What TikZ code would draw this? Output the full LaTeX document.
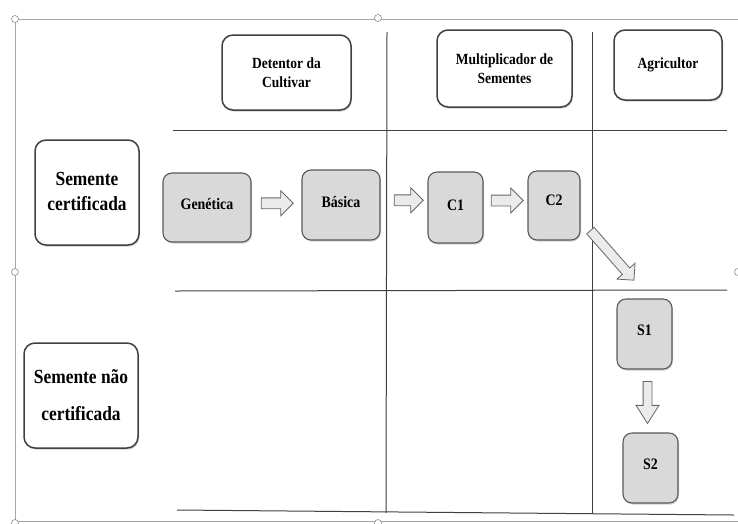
\documentclass[tikz,border=0pt]{standalone}
\usepackage{fontspec}
\setmainfont{Liberation Serif}[FakeStretch=0.87]
\usetikzlibrary{shapes.arrows,shadows,calc}
\begin{document}
\begin{tikzpicture}[x=1pt,y=-1pt,
  shad/.style={drop shadow={shadow xshift=1pt,shadow yshift=-1.6pt,opacity=0.35}},
  box/.style={rounded corners=11pt, draw=black!75, line width=1.5pt, fill=white, align=center, inner sep=0pt, shad},
  rowlabel/.style={box, font=\fontsize{20}{25}\selectfont\bfseries},
  colhead/.style={box, font=\fontsize{15.5}{19}\selectfont\bfseries},
  stage/.style={rounded corners=9pt, draw=black!65, line width=1.1pt, fill=black!15, inner sep=0pt, font=\fontsize{16}{19}\selectfont\bfseries, shad},
  blockarrow/.style={single arrow, draw=black!60, fill=black!8, line width=0.8pt, inner xsep=0pt, inner ysep=5pt, minimum height=32pt, minimum width=20pt, single arrow tip angle=90},
  gridline/.style={draw=black!75, line width=1pt},
  framel/.style={draw=black!35, line width=0.6pt},
  handle/.style={draw=black!45, fill=white, line width=0.6pt}
]
\useasboundingbox (0,0) rectangle (738,523);
% selection frame
\draw[framel] (15,19) -- (738,19);
\draw[framel] (15,19) -- (15,523);
\draw[framel] (15,521.5) -- (738,521.5);
\foreach \p in {(15,19),(378,18),(15,272),(738,272),(15,523),(378,523)}
  \draw[handle] \p circle (3.5);
% grid lines
\draw[gridline] (173,130) -- (727,130);
\draw[gridline] (175,291) -- (727,290);
\draw[gridline] (177,510) -- (734,515);
\draw[gridline] (387,32) -- (386,513);
\draw[gridline] (592,32) -- (592,513);
% column heads
\node[colhead, minimum width=129pt, minimum height=75pt] (det) at (286.5,72.5) {Detentor da\\Cultivar};
\node[colhead, minimum width=135pt, minimum height=77pt] (mult) at (504.5,68.5) {Multiplicador de\\Sementes};
\node[colhead, minimum width=108pt, minimum height=70pt] (agr) at (668,65) {\raisebox{3pt}{Agricultor}};
% row labels
\node[rowlabel, minimum width=104pt, minimum height=105pt] (semcert) at (87,192.5) {\raisebox{4pt}{\begin{tabular}{@{}c@{}}Semente\\certificada\end{tabular}}};
\node[rowlabel, font=\fontsize{20}{37}\selectfont\bfseries, minimum width=114pt, minimum height=105pt] (semnao) at (81,395.5) {Semente não\\certificada};
% stages
\node[stage, minimum width=88pt, minimum height=69pt] (gen) at (207,207.5) {\raisebox{7pt}{Genética}};
\node[stage, minimum width=78pt, minimum height=70pt] (bas) at (341,205) {\raisebox{7pt}{Básica}};
\node[stage, minimum width=55pt, minimum height=71pt] (c1) at (455.5,207.5) {\raisebox{4pt}{C1}};
\node[stage, minimum width=52pt, minimum height=69pt] (c2) at (554,205.5) {\raisebox{10pt}{C2}};
\node[stage, minimum width=55pt, minimum height=70pt] (s1) at (644.5,334) {\raisebox{7pt}{S1}};
\node[stage, minimum width=55pt, minimum height=70pt] (s2) at (650.5,468) {\raisebox{7pt}{S2}};
% block arrows
\node[blockarrow] (a1) at ($(gen.east)!0.5!(bas.west)+(-2,-3)$) {};
\node[blockarrow, minimum height=29pt] (a2) at ($(bas.east)!0.5!(c1.west)+(2,-6)$) {};
\node[blockarrow] (a3) at ($(c1.east)!0.5!(c2.west)+(-1,-6)$) {};
\node[blockarrow, rotate=-48.7, inner ysep=4.5pt, minimum height=66pt, minimum width=17pt] (a4) at ($(c2.south east)+(30,13)$) {};
\node[blockarrow, rotate=-90, inner ysep=4pt, minimum height=42pt, minimum width=15pt, single arrow tip angle=65] (a5) at ($(s1.south)!0.5!(s2.north)+(0,-2)$) {};
\end{tikzpicture}
\end{document}
